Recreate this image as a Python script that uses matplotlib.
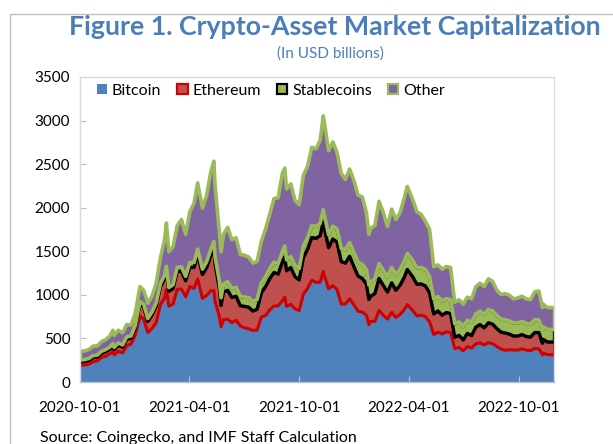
import matplotlib
matplotlib.use("Agg")
import matplotlib.pyplot as plt
import matplotlib.dates as mdates
from matplotlib.patches import Patch, Rectangle
import pandas as pd
import numpy as np

dates = [
    "2020-10-01", "2020-10-08", "2020-10-15", "2020-10-22", "2020-10-29", "2020-11-05",
    "2020-11-12", "2020-11-19", "2020-11-24", "2020-11-26", "2020-12-03", "2020-12-10",
    "2020-12-17", "2020-12-24", "2020-12-31", "2021-01-08", "2021-01-14", "2021-01-21",
    "2021-01-28", "2021-02-04", "2021-02-11", "2021-02-18", "2021-02-21", "2021-02-25",
    "2021-03-04", "2021-03-11", "2021-03-18", "2021-03-25", "2021-04-01", "2021-04-08",
    "2021-04-14", "2021-04-22", "2021-04-29", "2021-05-06", "2021-05-11", "2021-05-13",
    "2021-05-20", "2021-05-23", "2021-05-27", "2021-06-03", "2021-06-10", "2021-06-17",
    "2021-06-24", "2021-07-01", "2021-07-08", "2021-07-15", "2021-07-22", "2021-07-29",
    "2021-08-05", "2021-08-12", "2021-08-19", "2021-08-26", "2021-09-02", "2021-09-06",
    "2021-09-09", "2021-09-16", "2021-09-23", "2021-09-30", "2021-10-07", "2021-10-14",
    "2021-10-21", "2021-10-28", "2021-11-04", "2021-11-09", "2021-11-11", "2021-11-18",
    "2021-11-25", "2021-12-02", "2021-12-09", "2021-12-16", "2021-12-23", "2021-12-30",
    "2022-01-06", "2022-01-13", "2022-01-20", "2022-01-24", "2022-01-27", "2022-02-03",
    "2022-02-10", "2022-02-17", "2022-02-24", "2022-03-03", "2022-03-10", "2022-03-17",
    "2022-03-24", "2022-03-29", "2022-04-07", "2022-04-14", "2022-04-21", "2022-04-28",
    "2022-05-05", "2022-05-12", "2022-05-19", "2022-05-26", "2022-06-02", "2022-06-09",
    "2022-06-16", "2022-06-23", "2022-06-30", "2022-07-07", "2022-07-14", "2022-07-21",
    "2022-07-28", "2022-08-04", "2022-08-11", "2022-08-18", "2022-08-25", "2022-09-01",
    "2022-09-08", "2022-09-15", "2022-09-22", "2022-09-29", "2022-10-06", "2022-10-13",
    "2022-10-20", "2022-10-27", "2022-11-03", "2022-11-09", "2022-11-10", "2022-11-17",
    "2022-11-24", "2022-11-29",
]

bitcoin = [
    196, 202, 211, 239, 248, 288, 302, 331, 355, 318, 357, 340,
    424, 440, 539, 758, 729, 573, 621, 687, 892, 970, 1070, 877,
    901, 1068, 1074, 985, 1101, 1081, 1190, 966, 1000, 1053, 1055, 930,
    762, 640, 721, 727, 688, 714, 649, 628, 617, 597, 603, 751,
    768, 834, 878, 880, 938, 980, 873, 897, 845, 825, 1014, 1082,
    1173, 1149, 1151, 1275, 1225, 1075, 1113, 1068, 900, 901, 962, 892,
    817, 808, 772, 665, 702, 702, 828, 771, 728, 806, 746, 782,
    836, 895, 826, 764, 772, 757, 698, 551, 578, 557, 582, 575,
    390, 403, 363, 413, 394, 444, 455, 432, 457, 446, 413, 385,
    370, 377, 372, 372, 387, 372, 366, 390, 388, 317, 338, 321,
    319, 315,
]

ethereum = [
    40, 40, 43, 47, 44, 47, 52, 53, 68, 59, 70, 65,
    73, 66, 84, 140, 141, 128, 152, 190, 204, 222, 223, 170,
    176, 207, 205, 183, 222, 239, 283, 273, 318, 404, 487, 431,
    322, 244, 317, 331, 287, 276, 232, 246, 247, 223, 237, 279,
    331, 357, 385, 364, 444, 464, 409, 423, 370, 352, 421, 446,
    491, 505, 534, 567, 549, 472, 534, 543, 487, 469, 487, 440,
    405, 386, 357, 287, 288, 319, 366, 343, 310, 338, 312, 336,
    372, 402, 387, 363, 359, 352, 331, 236, 243, 216, 221, 216,
    129, 138, 125, 150, 144, 191, 210, 195, 229, 223, 206, 192,
    198, 178, 161, 162, 163, 156, 155, 183, 185, 134, 157, 145,
    145, 148,
]

stablecoins = [
    21, 21, 22, 22, 23, 23, 24, 24, 25, 25, 26, 26,
    27, 28, 29, 30, 31, 33, 35, 37, 38, 40, 41, 42,
    44, 46, 48, 50, 53, 56, 58, 62, 66, 72, 76, 78,
    85, 88, 92, 98, 102, 104, 106, 108, 110, 111, 112, 113,
    114, 116, 118, 120, 122, 123, 124, 126, 128, 130, 132, 134,
    136, 138, 140, 142, 143, 145, 147, 150, 152, 154, 156, 158,
    160, 162, 164, 165, 166, 168, 170, 172, 174, 176, 178, 180,
    182, 184, 186, 187, 188, 188, 186, 170, 165, 162, 160, 158,
    155, 154, 153, 152, 152, 152, 152, 152, 152, 152, 151, 151,
    151, 150, 150, 150, 149, 149, 148, 148, 147, 146, 146, 145,
    145, 144,
]

other = [
    99, 99, 102, 110, 105, 112, 114, 127, 152, 138, 147, 139,
    141, 126, 138, 172, 159, 176, 182, 226, 296, 408, 496, 411,
    439, 479, 543, 482, 584, 684, 759, 699, 766, 891, 922, 821,
    571, 528, 570, 624, 563, 566, 483, 478, 466, 439, 438, 477,
    547, 623, 729, 756, 896, 893, 814, 834, 747, 733, 813, 818,
    900, 888, 955, 1076, 1063, 968, 966, 879, 861, 806, 845, 830,
    768, 774, 657, 583, 614, 611, 716, 664, 578, 670, 634, 652,
    730, 769, 701, 646, 611, 553, 545, 373, 364, 365, 367, 371,
    246, 255, 259, 265, 270, 313, 323, 321, 352, 339, 290, 282,
    301, 295, 277, 286, 291, 283, 281, 319, 330, 263, 259, 249,
    251, 248,
]

series_names = ["Bitcoin", "Ethereum", "Stablecoins", "Other"]
y_ticks = [0, 500, 1000, 1500, 2000, 2500, 3000, 3500]
x_ticks = ["2020-10-01", "2021-04-01", "2021-10-01", "2022-04-01", "2022-10-01"]

fills = ["#4F81BD", "#C0504D", "#9BBB59", "#8064A2"]
edges = ["#4F81BD", "#D00000", "#000000", "#9BBB59"]
edge_w = [0.0, 2.2, 2.4, 2.6]

FONT = "Lato"
plt.rcParams["font.family"] = [FONT, "DejaVu Sans"]

W, H = 613, 444
fig = plt.figure(figsize=(W / 100, H / 100), dpi=100)
fig.patch.set_facecolor("white")

# outer frame
fig.patches.append(Rectangle((10 / W, -0.1), 1.2, (H - 14) / H + 0.1, transform=fig.transFigure,
                             fill=False, edgecolor="#BFBFBF", linewidth=1.0))

ax = fig.add_axes([80 / W, 1 - 382 / H, (554 - 80) / W, (382 - 77) / H])

x = pd.to_datetime(dates)
polys = ax.stackplot(x, bitcoin, ethereum, stablecoins, other, colors=fills, labels=series_names)
for p, ec, lw in zip(polys, edges, edge_w):
    p.set_edgecolor(ec)
    p.set_linewidth(lw)
    p.set_joinstyle("round")

ax.set_ylim(0, 3500)
ax.set_yticks(y_ticks)
ax.set_xlim(pd.Timestamp("2020-10-01"), pd.Timestamp("2022-11-29"))
ax.set_xticks(pd.to_datetime(x_ticks))
ax.xaxis.set_major_formatter(mdates.DateFormatter("%Y-%m-%d"))

for s in ax.spines.values():
    s.set_color("#D9D9D9")
    s.set_linewidth(1.0)
ax.spines["bottom"].set_color("#BFBFBF")
ax.tick_params(axis="both", direction="in", length=4, color="#BFBFBF", labelsize=11,
               labelcolor="#000000")
ax.tick_params(axis="y", pad=7)
ax.tick_params(axis="x", pad=14)

handles = [Patch(facecolor=f, edgecolor=e, linewidth=(1.6 if lw > 0 else 0)) for f, e, lw in zip(fills, edges, edge_w)]
leg = ax.legend(handles, series_names, loc="upper left", ncol=4, frameon=False, fontsize=11.5,
                bbox_to_anchor=(0.015, 1.01), handlelength=0.65, handleheight=0.65,
                handletextpad=0.3, columnspacing=1.0, borderaxespad=0.2)

fig.text(335 / W, 1 - 27 / H, "Figure 1. Crypto-Asset Market Capitalization", ha="center", va="center",
         fontsize=19.3, fontweight="bold", color="#4A7EBB")
fig.text(330 / W, 1 - 54 / H, "(In USD billions)", ha="center", va="center", fontsize=11,
         color="#4A7EBB")
fig.text(40 / W, 1 - 438 / H, "Source: Coingecko, and IMF Staff Calculation", ha="left", va="center",
         fontsize=11.5, color="#000000")

fig.savefig("out.png", dpi=100, facecolor="white")
